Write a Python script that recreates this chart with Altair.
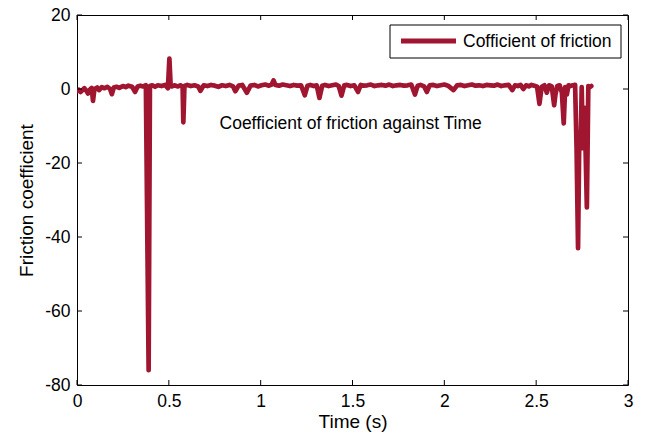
import altair as alt
import pandas as pd

# ---- data ----
time_s = [
    0.000, 0.010, 0.020, 0.030, 0.040, 0.050, 0.060, 0.070, 0.080, 0.087,
    0.095, 0.110, 0.120, 0.135, 0.150, 0.165, 0.180, 0.190, 0.200, 0.215,
    0.230, 0.250, 0.265, 0.280, 0.300, 0.316, 0.330, 0.345, 0.360, 0.375,
    0.390, 0.397, 0.410, 0.425, 0.440, 0.460, 0.480, 0.495, 0.503, 0.510,
    0.517, 0.530, 0.550, 0.565, 0.575, 0.579, 0.585, 0.600, 0.620, 0.640,
    0.660, 0.672, 0.690, 0.710, 0.730, 0.750, 0.770, 0.790, 0.810, 0.830,
    0.850, 0.862, 0.880, 0.900, 0.925, 0.945, 0.965, 0.985, 1.005, 1.025,
    1.045, 1.060, 1.070, 1.080, 1.100, 1.120, 1.140, 1.160, 1.180, 1.200,
    1.220, 1.240, 1.255, 1.270, 1.290, 1.305, 1.320, 1.335, 1.350, 1.370,
    1.390, 1.410, 1.425, 1.440, 1.455, 1.470, 1.490, 1.510, 1.530, 1.545,
    1.560, 1.580, 1.600, 1.620, 1.640, 1.660, 1.680, 1.700, 1.720, 1.740,
    1.760, 1.780, 1.800, 1.820, 1.840, 1.855, 1.870, 1.890, 1.905, 1.920,
    1.940, 1.960, 1.980, 2.000, 2.020, 2.050, 2.070, 2.090, 2.110, 2.130,
    2.150, 2.170, 2.190, 2.210, 2.230, 2.250, 2.270, 2.290, 2.310, 2.330,
    2.350, 2.370, 2.385, 2.400, 2.415, 2.430, 2.445, 2.460, 2.475, 2.490,
    2.505, 2.518, 2.530, 2.545, 2.558, 2.570, 2.585, 2.598, 2.605, 2.615,
    2.628, 2.640, 2.650, 2.658, 2.667, 2.676, 2.686, 2.700, 2.712, 2.720,
    2.728, 2.735, 2.742, 2.748, 2.754, 2.761, 2.768, 2.776, 2.784, 2.792,
    2.800,
]
friction = [
    -0.6, -0.2, -0.8, -0.3, 0.2, -0.4, -1.2, -0.2, 0.3, -3.2,
    0.0, 0.4, -0.3, 0.5, 0.2, 0.6, 0.0, -1.4, 0.4, 0.6,
    0.3, 0.8, 0.5, 0.9, 0.6, -0.8, 0.7, 0.9, 0.7, 1.0,
    -76.0, 0.8, 1.0, 0.6, 1.0, 0.8, 1.1, 0.2, 8.2, 0.8,
    0.7, 1.0, 0.7, 1.0, 0.6, -9.0, 0.8, 1.1, 0.8, 1.0,
    0.7, -0.5, 1.0, 0.8, 1.1, 0.9, 0.6, 1.0, 0.8, 1.1,
    0.7, -0.6, 0.9, 1.1, -1.0, 0.9, 1.1, 0.7, 1.0, 1.2,
    0.9, 1.2, 2.3, 1.1, 0.9, 1.2, 1.0, 0.8, 1.1, 0.9,
    1.0, -1.7, 0.9, 1.1, 0.8, 1.0, -2.4, 0.9, 1.1, 0.8,
    1.0, 1.2, 0.8, -1.8, 1.0, 1.1, 0.8, 1.0, -0.8, 1.1,
    0.9, 1.0, 1.2, 0.8, 1.0, 1.1, 0.9, 1.2, 0.8, 1.0,
    1.1, 0.9, 1.0, 1.2, -1.5, 0.9, 1.1, 0.7, -0.8, 1.0,
    1.1, 0.8, 1.0, 1.2, 0.9, -0.3, 1.0, 1.1, 0.8, 1.0,
    1.2, 0.9, 1.0, 0.8, 1.1, 1.0, 0.9, 1.2, 0.8, 1.0,
    1.1, -0.3, 1.0, 0.8, 1.1, 0.0, 1.0, 0.7, 1.1, 0.9,
    0.6, -4.0, 0.6, 1.0, -1.0, 1.0, 0.7, -4.4, -1.5, 0.8,
    1.0, -1.0, -9.3, 0.5, -1.5, 1.0, 0.8, 1.0, 1.1, -16.0,
    -43.0, -12.0, -16.0, 0.5, -16.0, -5.0, -14.0, -32.0, 0.8, 0.5,
    0.8,
]
series_name = ["Cofficient of friction"]
x_ticks = [0, 0.5, 1, 1.5, 2, 2.5, 3]
y_ticks = [-80, -60, -40, -20, 0, 20]
note_text = ["Coefficient of friction against Time"]
note_t = [1.49]
note_v = [-9.5]

line_df = pd.DataFrame({"t": time_s, "v": friction})
xt_df = pd.DataFrame({"t": x_ticks})
yt_df = pd.DataFrame({"v": y_ticks})
note_df = pd.DataFrame({"t": note_t, "v": note_v, "label": note_text})
leg_df = pd.DataFrame({"series": series_name})

FONT = "Liberation Sans"
FS = 17.5
TFS = 19
RED = "#A0152F"
W, H = 551, 370

x_scale = alt.Scale(domain=[0, 3], nice=False, zero=False)
y_scale = alt.Scale(domain=[-80, 20], nice=False, zero=False)

MINUS_FIX = "replace(datum.label, '\u2212', '-')"
x_axis = alt.Axis(values=x_ticks, ticks=False, grid=False, domain=False,
                  labelPadding=7, title="Time (s)", titlePadding=3, format="~g",
                  labelExpr=MINUS_FIX, labelFlush=False)
y_axis = alt.Axis(values=y_ticks, ticks=False, grid=False, domain=False,
                  labelPadding=7, title="Friction coefficient", titlePadding=8,
                  format="d", labelExpr=MINUS_FIX, labelFlush=False)

x_enc = alt.X("t:Q", scale=x_scale, axis=x_axis)
y_enc = alt.Y("v:Q", scale=y_scale, axis=y_axis)

line = alt.Chart(line_df).mark_line(
    strokeWidth=4.7, strokeJoin="round", strokeCap="round", clip=True, color=RED
).encode(x=x_enc, y=y_enc)

tick_len = 5
bottom_ticks = alt.Chart(xt_df).mark_rule(color="black", strokeWidth=1).encode(
    x=x_enc, y=alt.value(H), y2=alt.value(H - tick_len))
top_ticks = alt.Chart(xt_df).mark_rule(color="black", strokeWidth=1).encode(
    x=x_enc, y=alt.value(0), y2=alt.value(tick_len))
left_ticks = alt.Chart(yt_df).mark_rule(color="black", strokeWidth=1).encode(
    y=y_enc, x=alt.value(0), x2=alt.value(tick_len))
right_ticks = alt.Chart(yt_df).mark_rule(color="black", strokeWidth=1).encode(
    y=y_enc, x=alt.value(W), x2=alt.value(W - tick_len))

note = alt.Chart(note_df).mark_text(font=FONT, fontSize=FS, color="black").encode(
    x=x_enc, y=y_enc, text="label:N")

# legend box (MATLAB style), placed in the upper right of the plot area
leg_box = alt.Chart(leg_df).mark_rect(fill="white", stroke="black", strokeWidth=1).encode(
    x=alt.value(313), x2=alt.value(544), y=alt.value(10), y2=alt.value(43))
leg_sym = alt.Chart(leg_df).mark_rule(color=RED, strokeWidth=5).encode(
    x=alt.value(324), x2=alt.value(379), y=alt.value(26))
leg_txt = alt.Chart(leg_df).mark_text(font=FONT, fontSize=FS, color="black",
                                      align="left", baseline="middle").encode(
    x=alt.value(386), y=alt.value(27), text="series:N")

chart = alt.layer(line, bottom_ticks, top_ticks, left_ticks, right_ticks, note,
                  leg_box, leg_sym, leg_txt).properties(
    width=W, height=H,
    autosize=alt.AutoSizeParams(type="none"),
    padding={"left": 69, "top": 7, "right": 14, "bottom": 47},
    background="white",
).configure_view(
    stroke="black", strokeWidth=1
).configure_axis(
    labelFont=FONT, labelFontSize=FS, labelColor="black",
    titleFont=FONT, titleFontSize=TFS, titleColor="black", titleFontWeight="normal",
)

chart.save("out.html", embed_options={"renderer": "svg", "actions": False})
